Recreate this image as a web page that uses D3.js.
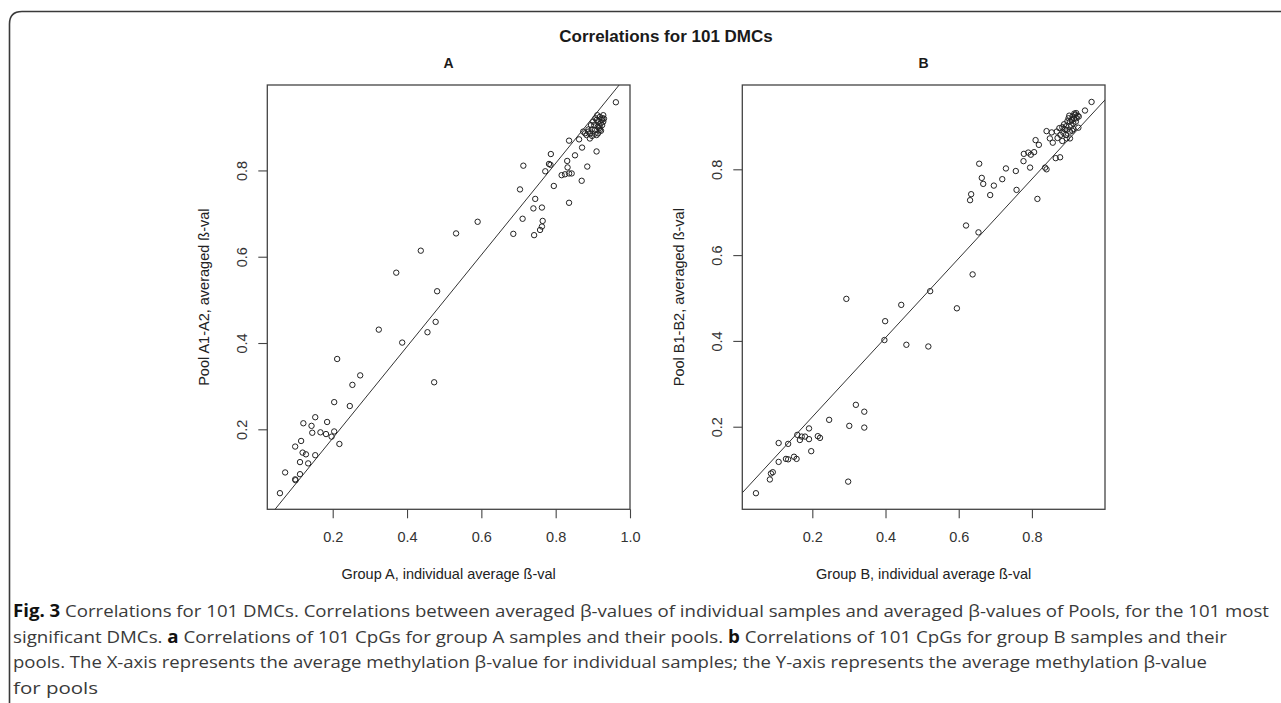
<!DOCTYPE html>
<html>
<head>
<meta charset="utf-8">
<script src="https://cdn.jsdelivr.net/npm/d3@7"></script>
<style>
    body { margin: 0; background: #fff; }
    .tick text { font-family: "Liberation Sans", Arial, sans-serif; }
</style>
</head>
<body>
<div id="chart"></div>
<script>

// Panel A: group A individual average vs pool A1-A2 average
var groupA_x = [0.058, 0.072, 0.099, 0.100, 0.112, 0.099, 0.115, 0.112, 0.119, 0.128,
    0.134, 0.121, 0.145, 0.143, 0.153, 0.153, 0.167, 0.182, 0.185, 0.197,
    0.204, 0.204, 0.212, 0.218, 0.246, 0.253, 0.274, 0.324, 0.387, 0.455,
    0.477, 0.473, 0.371, 0.437, 0.481, 0.532, 0.590, 0.962, 0.713, 0.704,
    0.787, 0.782, 0.786, 0.772, 0.795, 0.745, 0.740, 0.763, 0.711, 0.686,
    0.742, 0.758, 0.763, 0.765, 0.836, 0.870, 0.885, 0.910, 0.831, 0.832,
    0.816, 0.825, 0.836, 0.843, 0.852, 0.836, 0.871, 0.863, 0.874, 0.883,
    0.892, 0.901, 0.907, 0.913, 0.919, 0.924, 0.928, 0.914, 0.906, 0.897,
    0.888, 0.910, 0.921, 0.917, 0.926, 0.904, 0.892, 0.879, 0.928, 0.910,
    0.919, 0.895, 0.915, 0.925, 0.905, 0.898, 0.918, 0.930, 0.912, 0.888,
    0.922];
var poolA_y = [0.052, 0.100, 0.084, 0.082, 0.096, 0.160, 0.173, 0.124, 0.146, 0.142,
    0.121, 0.214, 0.192, 0.208, 0.228, 0.140, 0.193, 0.189, 0.217, 0.183,
    0.195, 0.263, 0.363, 0.166, 0.254, 0.303, 0.325, 0.431, 0.401, 0.425,
    0.449, 0.309, 0.563, 0.614, 0.520, 0.654, 0.681, 0.958, 0.811, 0.756,
    0.838, 0.815, 0.813, 0.798, 0.764, 0.734, 0.712, 0.714, 0.688, 0.653,
    0.650, 0.662, 0.670, 0.683, 0.725, 0.776, 0.809, 0.844, 0.822, 0.807,
    0.789, 0.791, 0.793, 0.793, 0.835, 0.869, 0.853, 0.872, 0.890, 0.882,
    0.874, 0.913, 0.921, 0.901, 0.924, 0.917, 0.928, 0.886, 0.894, 0.895,
    0.890, 0.882, 0.909, 0.898, 0.921, 0.905, 0.886, 0.886, 0.913, 0.917,
    0.894, 0.905, 0.915, 0.905, 0.885, 0.880, 0.902, 0.920, 0.928, 0.895,
    0.892];

// Panel B: group B individual average vs pool B1-B2 average
var groupB_x = [0.046, 0.084, 0.087, 0.092, 0.108, 0.108, 0.128, 0.134, 0.134, 0.150,
    0.157, 0.159, 0.166, 0.171, 0.180, 0.191, 0.191, 0.197, 0.215, 0.221,
    0.246, 0.298, 0.301, 0.319, 0.342, 0.342, 0.293, 0.399, 0.397, 0.443,
    0.457, 0.517, 0.595, 0.522, 0.638, 0.620, 0.654, 0.656, 0.663, 0.667,
    0.634, 0.631, 0.686, 0.963, 0.945, 0.927, 0.815, 0.836, 0.840, 0.865,
    0.877, 0.758, 0.795, 0.756, 0.729, 0.719, 0.696, 0.777, 0.778, 0.790,
    0.797, 0.806, 0.810, 0.819, 0.840, 0.849, 0.857, 0.854, 0.868, 0.883,
    0.895, 0.904, 0.875, 0.883, 0.890, 0.900, 0.909, 0.918, 0.922, 0.913,
    0.904, 0.895, 0.886, 0.928, 0.921, 0.911, 0.913, 0.904, 0.893, 0.920,
    0.888, 0.897, 0.908, 0.915, 0.925, 0.902, 0.878, 0.870, 0.916, 0.893,
    0.910];
var poolB_y = [0.045, 0.077, 0.091, 0.094, 0.162, 0.118, 0.125, 0.124, 0.160, 0.130,
    0.125, 0.181, 0.169, 0.177, 0.177, 0.196, 0.171, 0.143, 0.178, 0.174,
    0.216, 0.072, 0.202, 0.251, 0.235, 0.198, 0.498, 0.446, 0.402, 0.484,
    0.391, 0.387, 0.476, 0.516, 0.555, 0.669, 0.653, 0.813, 0.780, 0.766,
    0.742, 0.728, 0.740, 0.957, 0.937, 0.897, 0.731, 0.804, 0.800, 0.826,
    0.828, 0.752, 0.804, 0.796, 0.802, 0.777, 0.762, 0.819, 0.836, 0.839,
    0.834, 0.840, 0.868, 0.857, 0.889, 0.872, 0.862, 0.886, 0.888, 0.866,
    0.872, 0.872, 0.896, 0.898, 0.893, 0.919, 0.915, 0.927, 0.919, 0.907,
    0.888, 0.892, 0.885, 0.923, 0.931, 0.923, 0.894, 0.911, 0.880, 0.911,
    0.905, 0.912, 0.902, 0.918, 0.925, 0.925, 0.880, 0.873, 0.930, 0.900,
    0.890];

// Fitted lines (intercept, slope) and tick values
var fitA = [-0.033, 1.062];
var fitB = [0.038, 0.924];
var ticksAx = [0.2, 0.4, 0.6, 0.8, 1.0];
var ticksBx = [0.2, 0.4, 0.6, 0.8];
var ticksY = [0.2, 0.4, 0.6, 0.8];

var captionLines = [
    [["Fig. 3", true], [" Correlations for 101 DMCs. Correlations between averaged \u03b2-values of individual samples and averaged \u03b2-values of Pools, for the 101 most", false]],
    [["significant DMCs. ", false], ["a", true], [" Correlations of 101 CpGs for group A samples and their pools. ", false], ["b", true], [" Correlations of 101 CpGs for group B samples and their", false]],
    [["pools. The X-axis represents the average methylation \u03b2-value for individual samples; the Y-axis represents the average methylation \u03b2-value", false]],
    [["for pools", false]]
];
var captionEnds = [1269, 1227, 1207, 98];

function init() {

    var w = 1281;
    var h = 703;
    var font = "'Liberation Sans', Arial, sans-serif";

    var svg = d3.select("#chart")
                .append("svg")
                .attr("width", w)
                .attr("height", h);

    svg.append("rect").attr("width", w).attr("height", h).attr("fill", "#fff");

    // figure frame, rounded top-left corner, open to the right and bottom
    svg.append("path")
        .attr("d", "M9.5," + h + " L9.5,24 Q9.5,11.5 22,11.5 L" + w + ",11.5")
        .attr("fill", "none")
        .attr("stroke", "#3a3a3a")
        .attr("stroke-width", 1.6);

    // overall title
    svg.append("text")
        .attr("x", 666)
        .attr("y", 42)
        .attr("text-anchor", "middle")
        .attr("font-family", font)
        .attr("font-weight", "bold")
        .attr("font-size", "17px")
        .attr("fill", "#1a1a1a")
        .text("Correlations for 101 DMCs");

    var panels = [
        { label: "A", left: 267.3, right: 630, xdom: [0.024, 1.0], ydom: [0.0146, 0.998],
          xs: groupA_x, ys: poolA_y, fit: fitA, xticks: ticksAx,
          xlab: "Group A, individual average \u00df-val", ylab: "Pool A1-A2, averaged \u00df-val" },
        { label: "B", left: 742.3, right: 1105, xdom: [0.0087, 0.9997], ydom: [0.0075, 0.9965],
          xs: groupB_x, ys: poolB_y, fit: fitB, xticks: ticksBx,
          xlab: "Group B, individual average \u00df-val", ylab: "Pool B1-B2, averaged \u00df-val" }
    ];

    var top = 85;
    var bottom = 509.3;

    panels.forEach(function(p, i) {

        var xScale = d3.scaleLinear().domain(p.xdom).range([p.left, p.right]);
        var yScale = d3.scaleLinear().domain(p.ydom).range([bottom, top]);
        var cx = (p.left + p.right) / 2;

        var g = svg.append("g");

        // clip for the fitted line
        svg.append("clipPath")
            .attr("id", "clip" + i)
            .append("rect")
            .attr("x", p.left).attr("y", top)
            .attr("width", p.right - p.left).attr("height", bottom - top);

        // panel letter
        g.append("text")
            .attr("x", cx)
            .attr("y", 68)
            .attr("text-anchor", "middle")
            .attr("font-family", font)
            .attr("font-weight", "bold")
            .attr("font-size", "14px")
            .attr("fill", "#1a1a1a")
            .text(p.label);

        // axes
        var xAxis = d3.axisBottom(xScale)
                      .tickValues(p.xticks)
                      .tickSize(9)
                      .tickPadding(4)
                      .tickFormat(d3.format(".1f"));
        var yAxis = d3.axisLeft(yScale)
                      .tickValues(ticksY)
                      .tickSize(9)
                      .tickFormat(d3.format(".1f"));

        var gx = g.append("g")
            .attr("transform", "translate(0," + bottom + ")")
            .call(xAxis);
        gx.select(".domain").remove();
        gx.selectAll("line").attr("stroke", "#444").attr("stroke-width", 1.1);
        gx.selectAll("text")
            .attr("font-size", "14.5px")
            .attr("fill", "#333")
            .attr("dy", null)
            .attr("y", 33);

        var gy = g.append("g")
            .attr("transform", "translate(" + p.left + ",0)")
            .call(yAxis);
        gy.select(".domain").remove();
        gy.selectAll("line").attr("stroke", "#444").attr("stroke-width", 1.1);
        gy.selectAll("text")
            .attr("font-size", "14.5px")
            .attr("fill", "#333")
            .attr("x", null)
            .attr("dy", null)
            .attr("text-anchor", "middle")
            .attr("transform", "translate(-20.6,0) rotate(-90)");

        // plot box
        g.append("rect")
            .attr("x", p.left).attr("y", top)
            .attr("width", p.right - p.left).attr("height", bottom - top)
            .attr("fill", "none")
            .attr("stroke", "#444")
            .attr("stroke-width", 1.3);

        // axis titles
        g.append("text")
            .attr("x", cx)
            .attr("y", 579)
            .attr("text-anchor", "middle")
            .attr("font-family", font)
            .attr("font-size", "14.5px")
            .attr("fill", "#222")
            .text(p.xlab);

        g.append("text")
            .attr("transform", "translate(" + (p.left - 58) + "," + ((top + bottom) / 2) + ") rotate(-90)")
            .attr("text-anchor", "middle")
            .attr("font-family", font)
            .attr("font-size", "14.5px")
            .attr("fill", "#222")
            .text(p.ylab);

        // fitted line
        var x0 = p.xdom[0], x1 = p.xdom[1];
        g.append("line")
            .attr("clip-path", "url(#clip" + i + ")")
            .attr("x1", xScale(x0 - 0.05))
            .attr("y1", yScale(p.fit[0] + p.fit[1] * (x0 - 0.05)))
            .attr("x2", xScale(x1 + 0.05))
            .attr("y2", yScale(p.fit[0] + p.fit[1] * (x1 + 0.05)))
            .attr("stroke", "#333")
            .attr("stroke-width", 1);

        // points
        g.selectAll("circle")
            .data(d3.range(p.xs.length))
            .enter()
            .append("circle")
            .attr("cx", function(k) { return xScale(p.xs[k]); })
            .attr("cy", function(k) { return yScale(p.ys[k]); })
            .attr("r", 2.7)
            .attr("fill", "none")
            .attr("stroke", "#222")
            .attr("stroke-width", 1);
    });

    // caption
    captionLines.forEach(function(line, i) {
        var t = svg.append("text")
            .attr("x", 13)
            .attr("y", 617 + i * 25.5)
            .attr("font-family", "'Open Sans', 'Noto Sans', sans-serif")
            .attr("font-size", "17px")
            .attr("fill", "#3a3a3a")
            .attr("textLength", captionEnds[i] - 13)
            .attr("lengthAdjust", "spacingAndGlyphs");
        line.forEach(function(part) {
            t.append("tspan")
                .attr("font-weight", part[1] ? "bold" : null)
                .attr("fill", part[1] ? "#111" : null)
                .text(part[0]);
        });
    });
}

window.onload = init;
</script>
</body>
</html>
